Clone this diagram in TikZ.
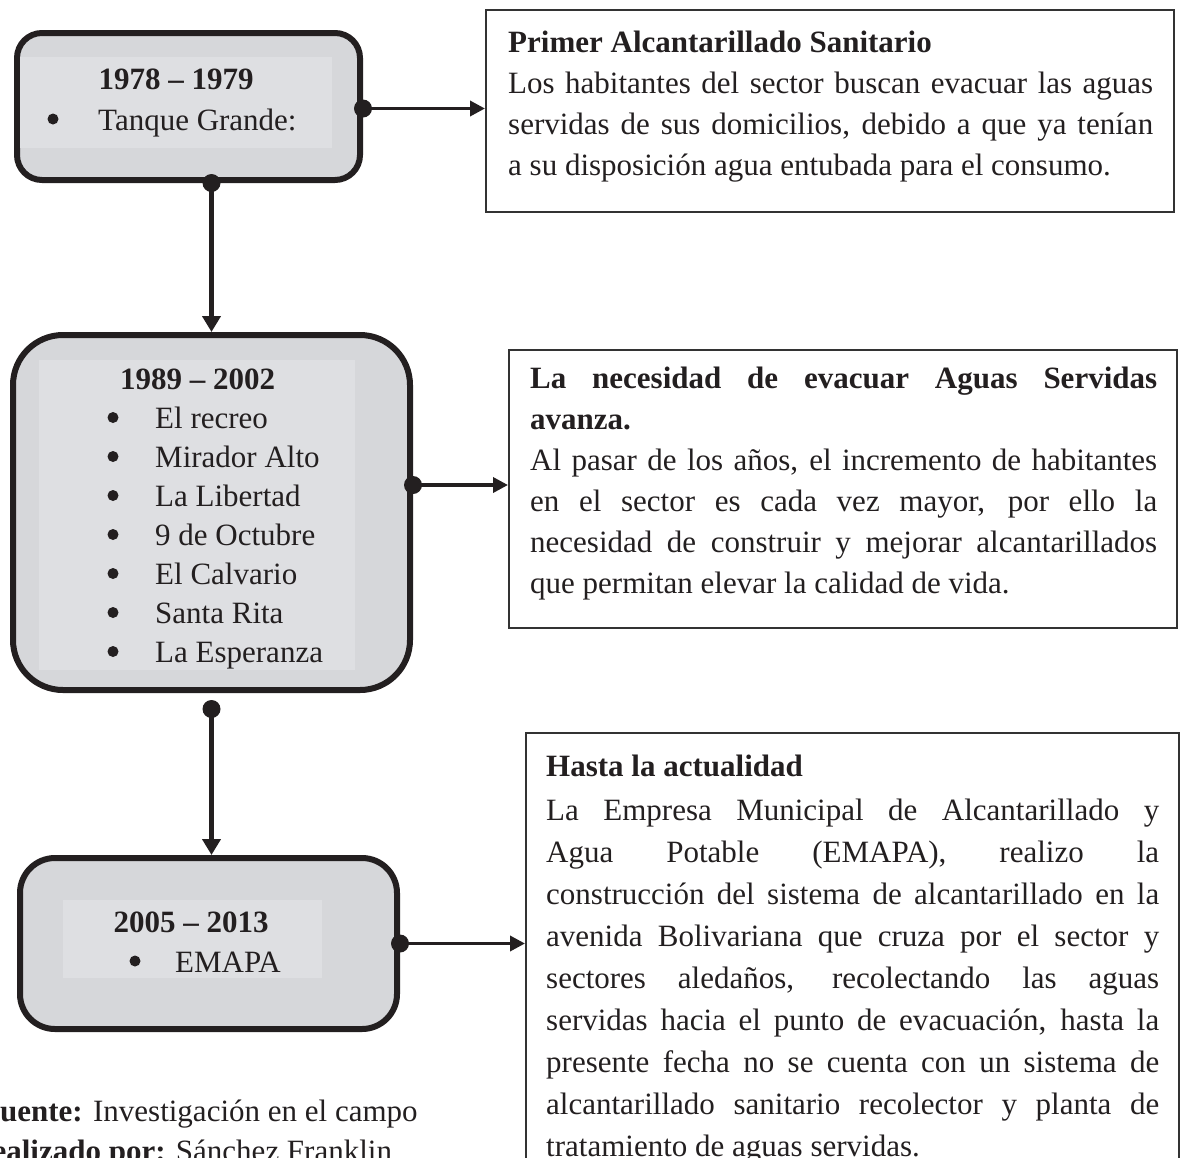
\documentclass[tikz,border=0pt]{standalone}
\usepackage{fontspec}
\setmainfont{Liberation Serif}
\usetikzlibrary{arrows.meta,positioning}
\definecolor{ink}{HTML}{231F20}
\definecolor{boxgray}{RGB}{214,215,218}
\definecolor{textgray}{RGB}{222,223,226}
\newcommand{\bigtext}{\fontsize{31pt}{41pt}\selectfont}
\newcommand{\widetext}{\fontsize{31pt}{42pt}\selectfont}
\newcommand{\looselines}{\tolerance=10000\hbadness=10000\hyphenpenalty=10000}

\begin{document}
\begin{tikzpicture}[x=1pt,y=-1pt,
  yearbox/.style={draw=ink, fill=boxgray, line width=6pt, inner sep=0pt},
  innerbox/.style={fill=textgray, inner sep=0pt},
  notebox/.style={draw=black!80, line width=2pt, inner sep=0pt},
  notetext/.style={anchor=north west, inner sep=0pt, align=justify, font=\bigtext, text=ink, execute at begin node=\looselines},
  title/.style={anchor=base, font=\bigtext\bfseries, text=ink, inner sep=0pt},
  entry/.style={anchor=base west, font=\bigtext, text=ink, inner sep=0pt},
  bullet/.style={circle, fill=ink, inner sep=0pt, minimum size=11pt},
  dot/.style={circle, fill=ink, inner sep=0pt, minimum size=18pt},
  hlink/.style={draw=ink, line width=3.5pt, -{Triangle[length=15pt,width=15pt]}},
  vlink/.style={draw=ink, line width=5pt, -{Triangle[length=16pt,width=18pt]}}]
\useasboundingbox (0,0) rectangle (1180,1157);

% left column
\node[yearbox, minimum width=343pt, minimum height=147pt, rounded corners=25pt] (b1) at (188.5,106.5) {};
\node[innerbox, minimum width=312pt, minimum height=91pt] (in1) at (176,102.5) {};
\node[title] (y1) at (176,89) {1978 -- 1979};
\node[bullet] (k0) at (53,119) {};
\node[entry] (e0) at (98,130.5) {Tanque Grande:};

\node[yearbox, minimum width=397pt, minimum height=355pt, rounded corners=50pt] (b2) at (211.5,512.5) {};
\node[innerbox, minimum width=316pt, minimum height=310pt] (in2) at (197,515) {};
\node[title] (y2) at (197.5,389.5) {1989 -- 2002};
\foreach \place [count=\i] in {El recreo, Mirador Alto, La Libertad, 9 de Octubre, El Calvario, Santa Rita, La Esperanza}{
  \node[bullet] (k\i) at (113,{417.5+39*(\i-1)}) {};
  \node[entry] (e\i) at (155,{428.5+39*(\i-1)}) {\place};
}

\node[yearbox, minimum width=377pt, minimum height=171pt, rounded corners=35pt] (b3) at (208.5,943.5) {};
\node[innerbox, minimum width=259pt, minimum height=78pt] (in3) at (192.5,939) {};
\node[title] (y3) at (191,932.5) {2005 -- 2013};
\node[bullet] (k8) at (135,961) {};
\node[entry] (e8) at (175,972.5) {EMAPA};

% right column
\node[notebox, minimum width=688pt, minimum height=202pt] (t1) at (830,111) {};
\node[notetext, text width=645pt] (n1) at (508,31) {\textbf{Primer Alcantarillado Sanitario}\\
  Los habitantes del sector buscan evacuar las aguas\linebreak
  servidas de sus domicilios, debido a que ya tenían\linebreak
  a su disposición agua entubada para el consumo.};

\node[notebox, minimum width=668pt, minimum height=278pt] (t2) at (843,489) {};
\node[notetext, text width=627pt] (n2) at (530,367) {\textbf{La necesidad de evacuar Aguas Servidas\linebreak avanza.}\\
  Al pasar de los años, el incremento de habitantes\linebreak
  en el sector es cada vez mayor, por ello la\linebreak
  necesidad de construir y mejorar alcantarillados\linebreak
  que permitan elevar la calidad de vida.};

\node[notebox, minimum width=653pt, minimum height=457pt] (t3) at (852.5,961.5) {};
\node[notetext, text width=613pt, font=\widetext] (n3) at (546,755) {\textbf{Hasta la actualidad}\\[2pt]
  La Empresa Municipal de Alcantarillado y\linebreak
  Agua Potable (EMAPA), realizo la\linebreak
  construcción del sistema de alcantarillado en la\linebreak
  avenida Bolivariana que cruza por el sector y\linebreak
  sectores aledaños, recolectando las aguas\linebreak
  servidas hacia el punto de evacuación, hasta la\linebreak
  presente fecha no se cuenta con un sistema de\linebreak
  alcantarillado sanitario recolector y planta de\linebreak
  tratamiento de aguas servidas.};

% connectors
\node[dot] (d1) at ([yshift=-2pt]b1.east) {};
\draw[hlink] (d1.center) -- (d1 -| t1.west);
\node[dot] (d2) at (b1.south -| b2.north) {};
\draw[vlink] (d2.center) -- (d2 |- b2.north);
\node[dot] (d3) at ([yshift=27.5pt]b2.east) {};
\draw[hlink] (d3.center) -- (d3 -| t2.west);
\node[dot] (d4) at ([yshift=-16pt]b2.south) {};
\draw[vlink] (d4.center) -- (d4 |- b3.north);
\node[dot] (d5) at (b3.east) {};
\draw[hlink] (d5.center) -- (d5 -| t3.west);

% source
\node[entry] (src) at (-19,1121) {\textbf{Fuente:} Investigación en el campo};
\node[entry] (by) at (-30,1161) {\textbf{Realizado por:} Sánchez Franklin};
\end{tikzpicture}
\end{document}
